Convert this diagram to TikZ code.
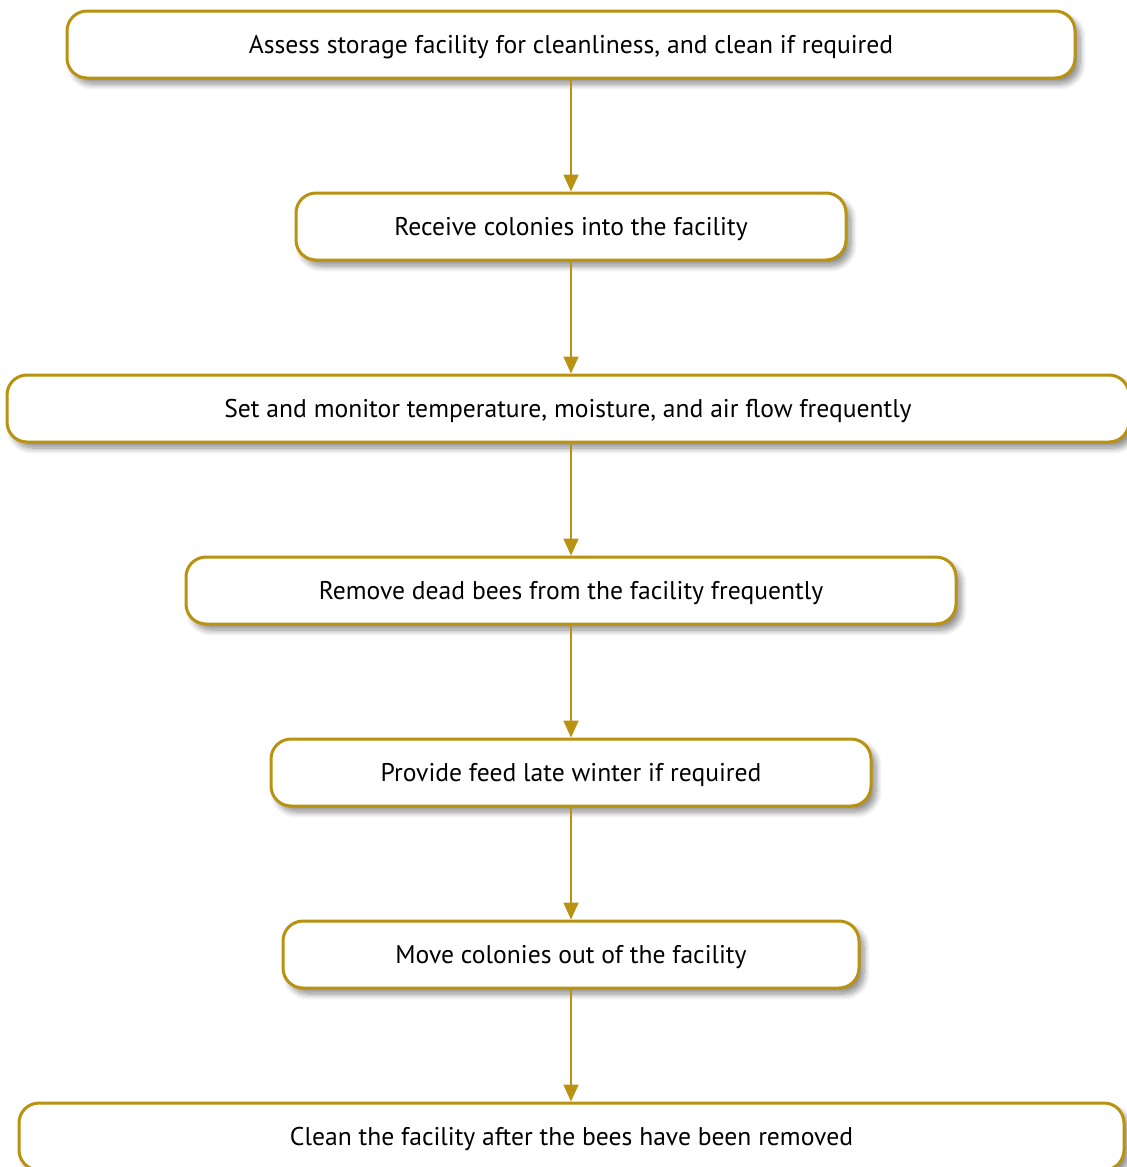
\documentclass[tikz,border=0pt]{standalone}
\usepackage{fontspec}
\setmainfont{PT Sans}
\usetikzlibrary{arrows.meta,shadows.blur}
\definecolor{gold}{RGB}{184,146,16}
\tikzset{
  stepbox/.style={draw=gold, line width=1.5pt, fill=white, rounded corners=10pt,
    minimum height=33.5pt, inner sep=0pt, text height=10.5pt, text depth=2pt,
    font=\fontsize{12.8}{15}\selectfont,
    blur shadow={shadow xshift=2.5pt, shadow yshift=-3pt, shadow blur radius=3pt,
      shadow blur steps=8, shadow opacity=45}},
  flow/.style={draw=gold, line width=1pt, -{Triangle[width=7.5pt,length=8.5pt]}, gold}
}
\begin{document}
\begin{tikzpicture}[x=0.5pt,y=-0.5pt]
\useasboundingbox (0,0) rectangle (1126,1167);
\node[stepbox, minimum width=504pt] (s1) at (571,44.5) {Assess storage facility for cleanliness, and clean if required};
\node[stepbox, minimum width=275pt] (s2) at (571,226.5) {Receive colonies into the facility};
\node[stepbox, minimum width=561pt] (s3) at (568,408.5) {Set and monitor temperature, moisture, and air flow frequently};
\node[stepbox, minimum width=385pt] (s4) at (571,590.5) {Remove dead bees from the facility frequently};
\node[stepbox, minimum width=300pt] (s5) at (571,772.5) {Provide feed late winter if required};
\node[stepbox, minimum width=288pt] (s6) at (571,954.5) {Move colonies out of the facility};
\node[stepbox, minimum width=552.5pt] (s7) at (571.5,1136.5) {Clean the facility after the bees have been removed};
\draw[flow] (s1.south -| s2) -- (s2.north);
\draw[flow] (s2) -- (s3.north -| s2);
\draw[flow] (s3.south -| s2) -- (s4);
\draw[flow] (s4) -- (s5);
\draw[flow] (s5) -- (s6);
\draw[flow] (s6) -- (s7.north -| s6);
\end{tikzpicture}
\end{document}
